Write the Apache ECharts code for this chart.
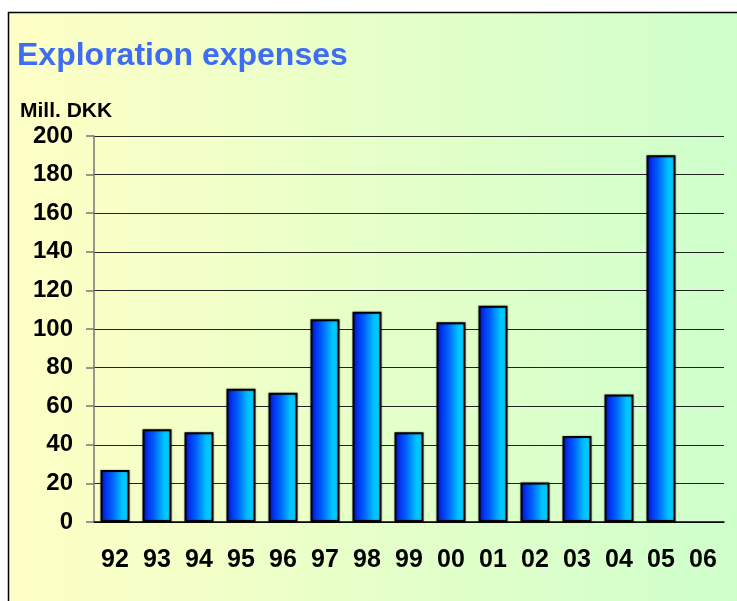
<!DOCTYPE html>
<html>
<head>
<meta charset="utf-8">
<script src="https://cdn.jsdelivr.net/npm/echarts@6/dist/echarts.min.js"></script>
<style>
  html, body { margin: 0; padding: 0; background: #fff; }
  #chart-container { width: 737px; height: 601px; }
</style>
</head>
<body>
<div id="chart-container"></div>
<script>
// 数据
var years = ['92', '93', '94', '95', '96', '97', '98', '99', '00', '01', '02', '03', '04', '05', '06'];
var expenses = [27, 48, 46.5, 69, 67, 105, 109, 46.5, 103.5, 112, 20.5, 44.5, 66, 190, null];
var yTicks = [0, 20, 40, 60, 80, 100, 120, 140, 160, 180, 200];

var container = document.getElementById('chart-container');
var myChart = echarts.init(container);

var barGradient = new echarts.graphic.LinearGradient(0, 0, 1, 0, [
    { offset: 0, color: '#0010dd' },
    { offset: 0.4, color: '#0060ff' },
    { offset: 0.75, color: '#00c4ff' },
    { offset: 1, color: '#00d0ff' }
]);

var option = {
    animation: false,
    textStyle: { fontFamily: 'Liberation Sans, Arial, sans-serif' },
    graphic: [
        {
            // 背景框
            type: 'rect',
            z: -10,
            shape: { x: 8.5, y: 12.5, width: 760, height: 620 },
            style: {
                fill: new echarts.graphic.LinearGradient(0, 0, 1, 0, [
                    { offset: 0, color: '#ffffc6' },
                    { offset: 1, color: '#ccffcc' }
                ]),
                stroke: '#000',
                lineWidth: 1.5
            }
        },
        {
            type: 'text',
            left: 17,
            top: 40,
            style: {
                text: 'Exploration expenses',
                fill: '#3e6cf3',
                font: 'bold 32px "Liberation Sans", Arial, sans-serif'
            }
        },
        {
            type: 'text',
            left: 20,
            top: 101,
            style: {
                text: 'Mill. DKK',
                fill: '#000',
                font: 'bold 21px "Liberation Sans", Arial, sans-serif'
            }
        }
    ],
    grid: { left: 94, right: 13, top: 136, bottom: 79, containLabel: false },
    xAxis: {
        type: 'category',
        data: years,
        axisLine: { lineStyle: { color: '#000', width: 1.5 } },
        axisTick: { show: false },
        axisLabel: {
            margin: 26,
            color: '#000',
            fontSize: 25,
            fontWeight: 'bold'
        }
    },
    yAxis: {
        type: 'value',
        min: 0,
        max: 200,
        interval: 20,
        axisLine: { show: true, lineStyle: { color: '#777', width: 1.5 } },
        axisTick: { show: true, length: 8, lineStyle: { color: '#777', width: 1.5 } },
        splitLine: { lineStyle: { color: '#222', width: 1 } },
        axisLabel: {
            margin: 21,
            color: '#000',
            fontSize: 24,
            fontWeight: 'bold',
            formatter: function (v) { return yTicks.indexOf(v) >= 0 ? String(v) : ''; }
        }
    },
    series: [
        {
            type: 'bar',
            data: expenses,
            barWidth: 29,
            itemStyle: {
                color: barGradient,
                borderColor: '#000',
                borderWidth: 2,
                shadowColor: 'rgba(0,0,0,0.35)',
                shadowBlur: 2
            }
        }
    ]
};

myChart.setOption(option);
</script>
</body>
</html>
